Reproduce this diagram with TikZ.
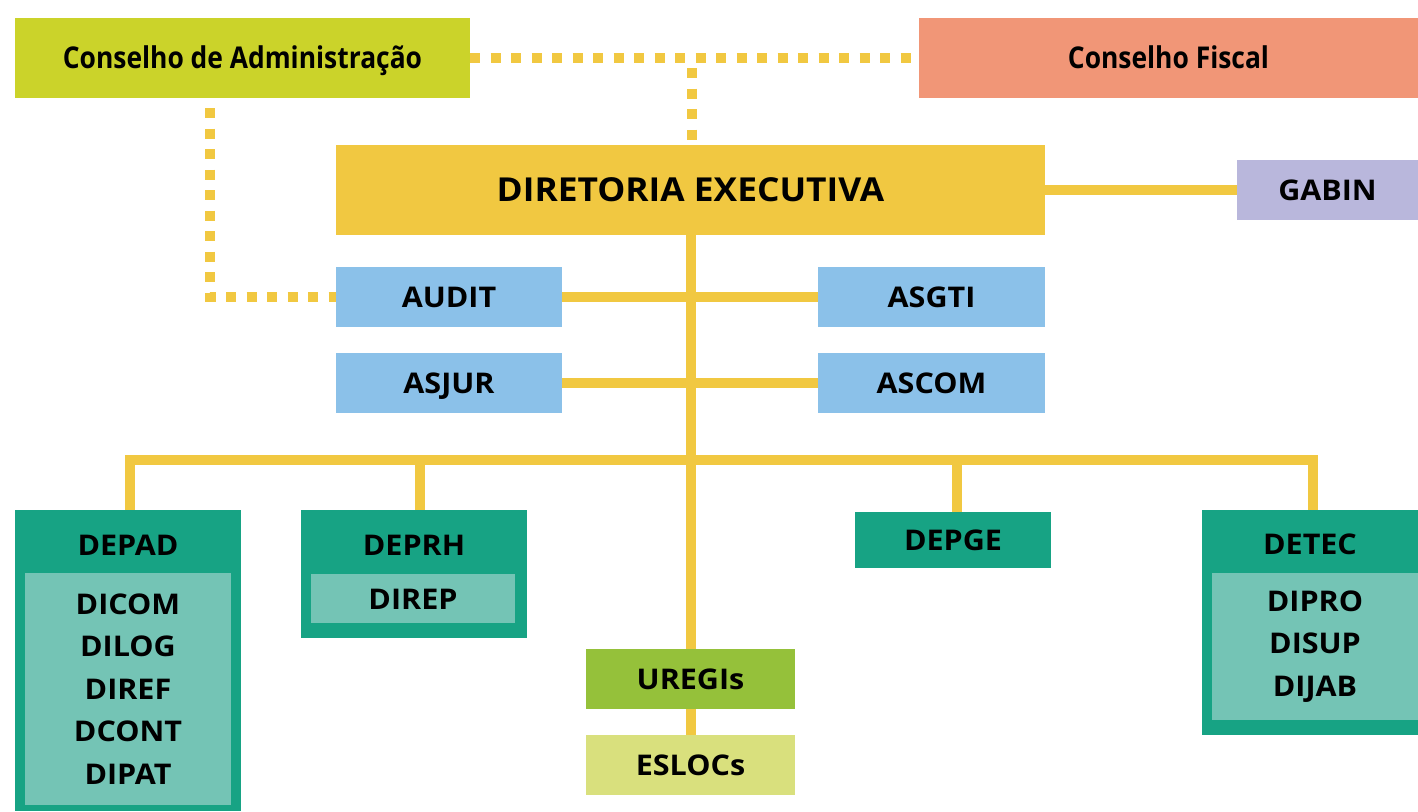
\documentclass[tikz,border=0pt]{standalone}
\usepackage{fontspec}
\newfontfamily\labf{Open Sans}[FakeStretch=0.88]
\newfontfamily\capf{Open Sans}[FakeStretch=1.07]
\definecolor{caC}{HTML}{CBD32A}
\definecolor{cfC}{HTML}{F19677}
\definecolor{yel}{HTML}{F1C841}
\definecolor{gabC}{HTML}{B9B7DC}
\definecolor{bluC}{HTML}{8BC1E9}
\definecolor{dgrC}{HTML}{17A384}
\definecolor{lgrC}{HTML}{74C4B5}
\definecolor{urC}{HTML}{95C13A}
\definecolor{esC}{HTML}{D9E07D}
\begin{document}
\begin{tikzpicture}[x=1pt,y=-1pt,
  box/.style={draw=none, inner sep=0pt, outer sep=0pt, text height=20pt, text depth=0pt,
    font=\capf\bfseries\fontsize{28.5}{34}\selectfont},
  topbox/.style={box, font=\labf\bfseries\fontsize{30}{36}\selectfont, text height=21pt},
  plain/.style={draw=none, inner sep=0pt, outer sep=0pt},
  list/.style={draw=none, inner sep=0pt, outer sep=0pt, align=center,
    font=\capf\bfseries\fontsize{28.5}{42.5}\selectfont},
  conn/.style={draw=yel, line width=10pt},
  dots/.style={draw=yel, line width=10pt, dash pattern=on 10pt off 10.5pt}]
\useasboundingbox (0,0) rectangle (1418,811);
% top
\node[topbox, fill=caC, minimum width=455, minimum height=80] (CA) at (242.5,58) {Conselho de Administração};
\node[topbox, fill=cfC, minimum width=499, minimum height=80] (CF) at (1168.5,58) {Conselho Fiscal};
\node[box, fill=yel, minimum width=709, minimum height=90, text height=23.5pt, font=\capf\bfseries\fontsize{33}{40}\selectfont] (DE) at (690.5,190) {DIRETORIA EXECUTIVA};
\node[box, fill=gabC, minimum width=181, minimum height=60] (GB) at (1327.5,190) {GABIN};
\node[box, fill=bluC, minimum width=226, minimum height=60] (AUDIT) at (449,297) {AUDIT};
\node[box, fill=bluC, minimum width=227, minimum height=60] (ASGTI) at (931.5,297) {ASGTI};
\node[box, fill=bluC, minimum width=226, minimum height=60] (ASJUR) at (449,383) {ASJUR};
\node[box, fill=bluC, minimum width=227, minimum height=60] (ASCOM) at (931.5,383) {ASCOM};
% departments
\node[plain, fill=dgrC, minimum width=226, minimum height=301] (DEPAD) at (128,660.5) {};
\node[box] (DEPADt) at (128,545) {DEPAD};
\node[list, fill=lgrC, minimum width=206, minimum height=232] (DEPADi) at (128,689) {DICOM\\DILOG\\DIREF\\DCONT\\DIPAT};
\node[plain, fill=dgrC, minimum width=226, minimum height=128] (DEPRH) at (414,574) {};
\node[box] (DEPRHt) at (414,545) {DEPRH};
\node[box, fill=lgrC, minimum width=204, minimum height=49, text height=22pt] (DEPRHi) at (413,598.5) {DIREP};
\node[box, fill=dgrC, minimum width=196, minimum height=56] (DEPGE) at (953,540) {DEPGE};
\node[plain, fill=dgrC, minimum width=216, minimum height=225] (DETEC) at (1310,622.5) {};
\node[box] (DETECt) at (1310,544) {DETEC};
\node[list, fill=lgrC, minimum width=206, minimum height=147] (DETECi) at (1315,646.5) {DIPRO\\DISUP\\DIJAB};
\node[box, fill=urC, minimum width=209, minimum height=60] (UR) at (690.5,679) {UREGIs};
\node[box, fill=esC, minimum width=209, minimum height=60] (ES) at (690.5,765) {ESLOCs};
% coordinates
\coordinate (mtop) at (692,68);
\coordinate (ltop) at (210,108);
\coordinate (bus) at (0,460);
% dotted links
\draw[dots] (CA.east) -- (CF.west);
\draw[dots] (mtop) -- (mtop |- DE.north);
\draw[dots] (ltop) |- (AUDIT.west);
% solid links
\draw[conn] (DE.east) -- (GB.west);
\draw[conn] (AUDIT.east) -- (ASGTI.west);
\draw[conn] (ASJUR.east) -- (ASCOM.west);
\draw[conn] (DE.south) -- (UR.north);
\draw[conn] (UR.south) -- (ES.north);
\draw[conn] ([xshift=2pt]DEPAD.north) |- ([xshift=3pt]DETEC.north |- bus) -- ([xshift=3pt]DETEC.north);
\draw[conn] ([xshift=6pt]DEPRH.north) -- ([xshift=6pt]DEPRH.north |- bus);
\draw[conn] ([xshift=4pt]DEPGE.north) -- ([xshift=4pt]DEPGE.north |- bus);
\end{tikzpicture}
\end{document}
